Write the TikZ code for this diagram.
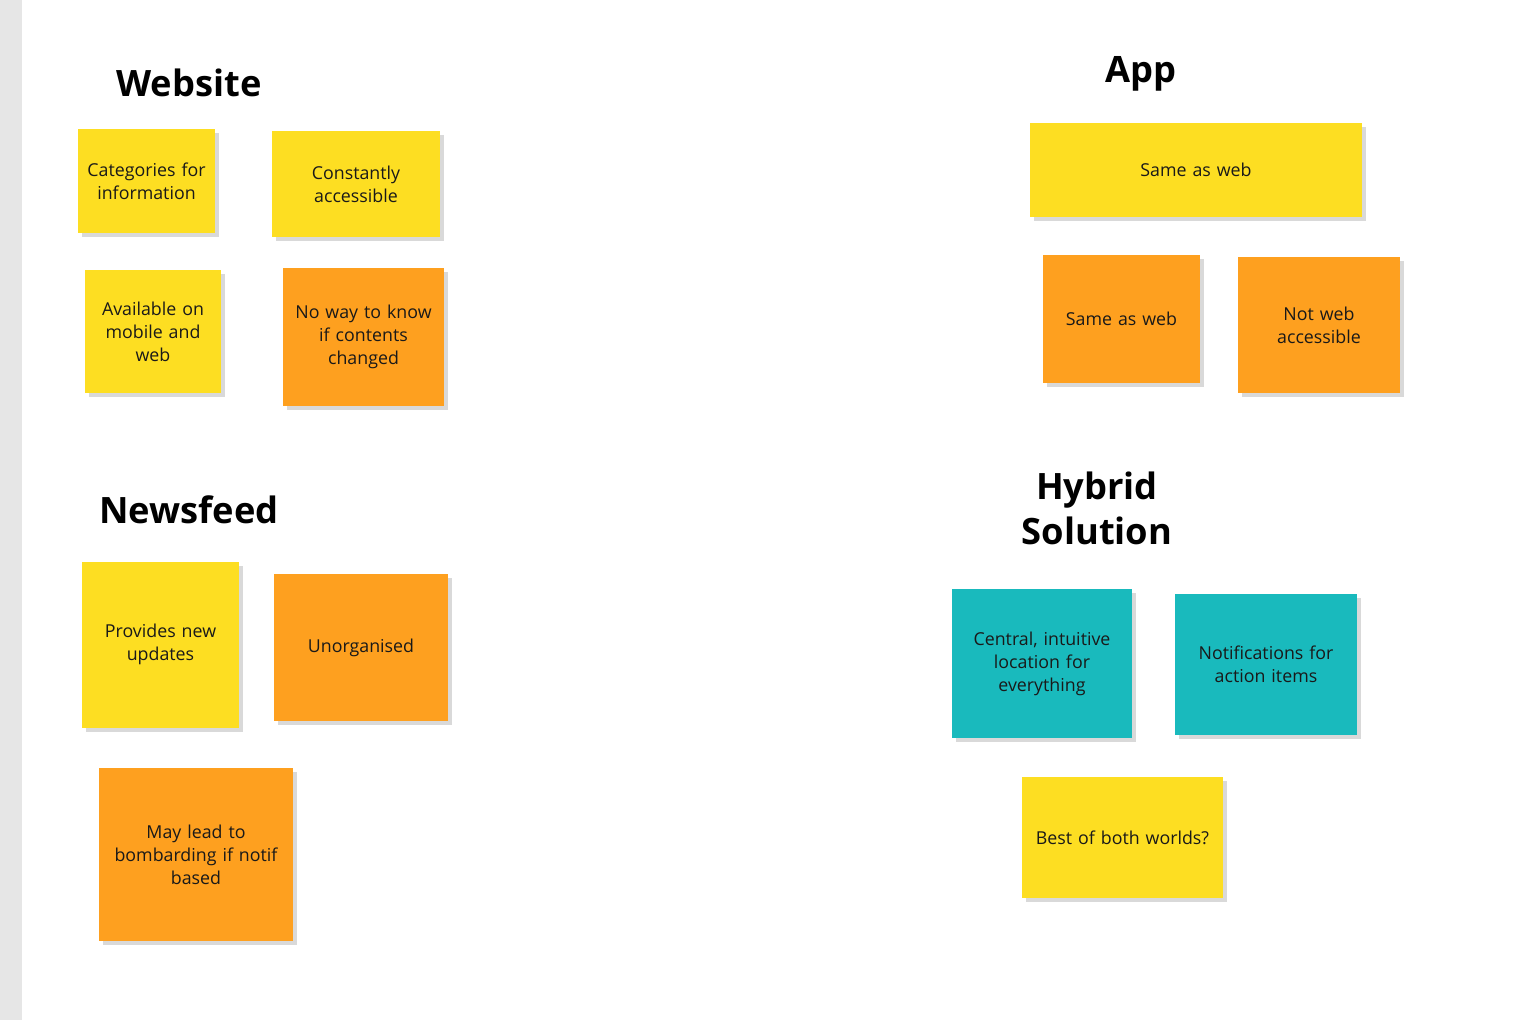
\documentclass[tikz,border=0pt]{standalone}
\usepackage{fontspec}
\setmainfont{Open Sans}
\usetikzlibrary{shadows}
\definecolor{yel}{HTML}{FDDE22}
\definecolor{org}{HTML}{FEA01F}
\definecolor{teal}{HTML}{19BABD}
\definecolor{strip}{HTML}{E6E6E6}
\definecolor{shd}{HTML}{D9D9D9}
\tikzset{
  note/.style={draw=none, inner sep=4pt, align=center, text=black!90,
    font=\fontsize{17.8}{23}\selectfont,
    drop shadow={shadow xshift=4pt, shadow yshift=-4pt, fill=shd, opacity=1}},
  ynote/.style={note, fill=yel},
  onote/.style={note, fill=org},
  tnote/.style={note, fill=teal},
  heading/.style={font=\fontsize{36.3}{45}\selectfont\bfseries, align=center, inner sep=0pt}
}
\begin{document}
\begin{tikzpicture}[x=1pt,y=-1pt]
\useasboundingbox (0,0) rectangle (1535,1020);
\fill[white] (0,0) rectangle (1535,1020);
\fill[strip] (0,0) rectangle (22,1020);

% Website
\node[heading] (hweb) at (189,82.5) {Website};
\node[ynote, minimum width=135pt, minimum height=104pt, text width=129pt] (w1) at (146.5,181) {Categories for\\information};
\node[ynote, minimum width=168pt, minimum height=106pt, text width=158pt] (w2) at (356,184) {Constantly\\accessible};
\node[ynote, minimum width=136pt, minimum height=123pt, text width=128pt] (w3) at (153,331.5) {Available on\\mobile and\\web};
\node[onote, minimum width=161pt, minimum height=138pt, text width=153pt] (w4) at (363.5,337) {No way to know\\if contents\\changed};

% Newsfeed
\node[heading] (hnews) at (189,509.5) {Newsfeed};
\node[ynote, minimum width=157pt, minimum height=166pt, text width=147pt] (n1) at (160.5,644.5) {Provides new\\updates};
\node[onote, minimum width=174pt, minimum height=147pt, text width=164pt] (n2) at (361,647.5) {Unorganised};
\node[onote, minimum width=194pt, minimum height=173pt, text width=186pt] (n3) at (196,854.5) {May lead to\\bombarding if notif\\based};

% App
\node[heading] (happ) at (1141,74) {App};
\node[ynote, minimum width=332pt, minimum height=94pt, text width=322pt] (a1) at (1196,170) {Same as web};
\node[onote, minimum width=157pt, minimum height=128pt, text width=147pt] (a2) at (1121.5,319) {Same as web};
\node[onote, minimum width=162pt, minimum height=136pt, text width=152pt] (a3) at (1319,325) {Not web\\accessible};

% Hybrid
\node[heading] (hhyb) at (1097,508.5) {Hybrid\\Solution};
\node[tnote, minimum width=180pt, minimum height=149pt, text width=172pt] (h1) at (1042,663.5) {Central, intuitive\\location for\\everything};
\node[tnote, minimum width=182pt, minimum height=141pt, text width=174pt] (h2) at (1266,664.5) {Notifications for\\action items};
\node[ynote, minimum width=201pt, minimum height=121pt, text width=191pt] (h3) at (1122.5,837.5) {Best of both worlds?};
\end{tikzpicture}
\end{document}
